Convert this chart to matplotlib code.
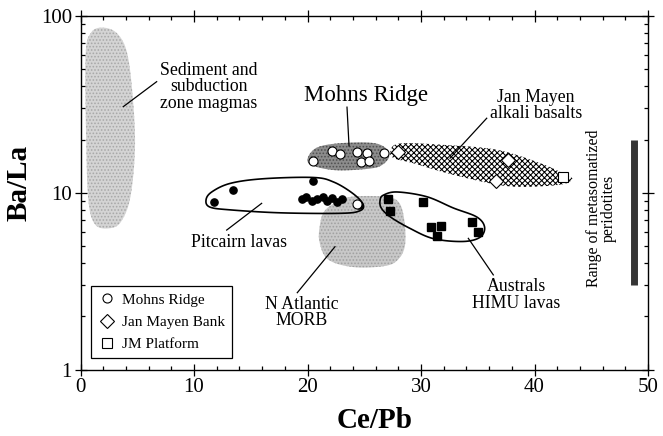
import numpy as np
import matplotlib
matplotlib.use('Agg')
import matplotlib.pyplot as plt
from matplotlib.ticker import LogLocator, MultipleLocator, NullFormatter

plt.rcParams['font.family'] = 'Liberation Serif'
plt.rcParams['hatch.linewidth'] = 0.75

# Mohns Ridge basalts (open circles)
mohns_cepb = [20.5, 22.2, 22.9, 24.4, 25.2, 24.7, 25.4, 26.7, 24.4]
mohns_bala = [15.1, 17.2, 16.6, 17.1, 16.7, 15.0, 15.1, 16.7, 8.6]

# Jan Mayen Bank (open diamonds) and JM Platform (open square)
jmb_cepb = [28.0, 37.7, 36.6]
jmb_bala = [17.1, 15.4, 11.7]
jmp_cepb = [42.5]
jmp_bala = [12.2]

# Pitcairn lavas (filled circles)
pit_cepb = [11.8, 13.4, 20.5, 19.5, 19.9, 20.4, 20.8, 21.4, 21.7, 22.2, 22.6, 23.0, 24.5]
pit_bala = [8.9, 10.3, 11.6, 9.2, 9.4, 9.0, 9.2, 9.5, 9.0, 9.3, 8.9, 9.2, 8.5]

# Australs HIMU lavas (filled squares)
aus_cepb = [27.1, 27.3, 30.2, 30.9, 31.8, 31.4, 34.5, 35.0]
aus_bala = [9.2, 7.9, 8.9, 6.4, 6.5, 5.7, 6.8, 6.0]

# field outlines (Ce/Pb, Ba/La)
sed_cepb = [1.9, 0.9, 0.45, 0.5, 0.7, 1.3, 2.6, 3.6, 4.4, 4.8, 4.6, 4.1, 3.2]
sed_bala = [86, 80, 60, 20, 9, 6.6, 6.3, 6.9, 9.5, 18, 35, 62, 80]

morb_cepb = [21.1, 21.45, 22.4, 23.9, 26.8, 28.0, 28.5, 28.6, 28.0, 26.8, 24.0, 21.8, 21.05]
morb_bala = [6.6, 7.8, 8.75, 9.5, 9.5, 8.9, 7.2, 5.1, 4.2, 3.85, 3.8, 4.2, 5.3]

mohns_field_cepb = [20.0, 20.75, 22.6, 25.5, 26.8, 27.2, 26.6, 25.5, 22.6, 20.5]
mohns_field_bala = [15.5, 17.9, 19.0, 19.2, 18.1, 16.1, 14.4, 13.7, 13.4, 14.2]

jm_field_cepb = [27.3, 28.15, 32.3, 36.7, 40.5, 42.8, 43.3, 42.25, 38.7, 36.1, 32.3, 29.3, 27.6]
jm_field_bala = [17.1, 19.0, 18.6, 17.5, 14.7, 12.6, 11.9, 11.1, 10.8, 11.3, 12.9, 14.7, 15.7]

pit_field_cepb = [11.06, 11.56, 13.2, 16.1, 20.5, 22.3, 24.0, 24.9, 24.6, 22.9, 17.6, 13.2, 11.4]
pit_field_bala = [9.1, 10.1, 11.3, 12.0, 12.2, 11.5, 9.9, 8.6, 7.9, 7.65, 7.7, 8.0, 8.3]

aus_field_cepb = [26.4, 26.7, 27.9, 30.5, 32.85, 34.9, 35.6, 35.2, 33.7, 31.1, 29.0, 27.3, 26.5]
aus_field_bala = [9.1, 9.7, 10.1, 9.5, 8.2, 7.3, 6.4, 5.6, 5.3, 5.5, 6.3, 7.3, 8.2]

# range of metasomatized peridotites
perid_cepb = 48.8
perid_bala = [3, 20]


def smooth_outline(xs, ys, n=24):
    # closed Catmull-Rom curve through the outline, worked in (x, log y)
    p = np.column_stack([xs, np.log10(ys)])
    k = len(p)
    t = np.linspace(0, 1, n, endpoint=False)[:, None]
    segs = []
    for i in range(k):
        p0, p1, p2, p3 = p[i - 1], p[i], p[(i + 1) % k], p[(i + 2) % k]
        segs.append(0.5 * (2 * p1 + (p2 - p0) * t
                           + (2 * p0 - 5 * p1 + 4 * p2 - p3) * t ** 2
                           + (3 * p1 - p0 - 3 * p2 + p3) * t ** 3))
    out = np.vstack(segs)
    return out[:, 0], 10 ** out[:, 1]


fig = plt.figure(figsize=(6.63, 4.36), dpi=100)
ax = fig.add_axes([80.5 / 663, 1 - 369.5 / 436, 567.5 / 663, 353.5 / 436])
ax.set_yscale('log')
ax.set_xlim(0, 50)
ax.set_ylim(1, 100)

# shaded fields
x, y = smooth_outline(sed_cepb, sed_bala)
ax.fill(x, y, facecolor='#d4d4d4', edgecolor='#a8a8a8', hatch='.....', lw=0, zorder=1)
x, y = smooth_outline(morb_cepb, morb_bala)
ax.fill(x, y, facecolor='#c8c8c8', edgecolor='#a0a0a0', hatch='.....', lw=0, zorder=1)
x, y = smooth_outline(mohns_field_cepb, mohns_field_bala)
ax.fill(x, y, facecolor='#8c8c8c', edgecolor='#505050', hatch='.....', lw=0, zorder=1)
x, y = smooth_outline(jm_field_cepb, jm_field_bala)
ax.fill(x, y, facecolor='white', edgecolor='black', hatch='xxxxxx', lw=0, zorder=1)

# outlined fields
x, y = smooth_outline(pit_field_cepb, pit_field_bala)
ax.fill(x, y, facecolor='none', edgecolor='black', lw=1.2, zorder=2)
x, y = smooth_outline(aus_field_cepb, aus_field_bala)
ax.fill(x, y, facecolor='none', edgecolor='black', lw=1.2, zorder=2)

ax.plot([perid_cepb, perid_cepb], perid_bala, color='#353535', lw=5,
        solid_capstyle='butt', zorder=2)

# samples
ax.plot(pit_cepb, pit_bala, 'o', ms=5.2, mfc='black', mec='black', zorder=3)
ax.plot(aus_cepb, aus_bala, 's', ms=5.6, mfc='black', mec='black', zorder=3)
ax.plot(mohns_cepb, mohns_bala, 'o', ms=6.5, mfc='white', mec='black', mew=0.8,
        zorder=4, label='Mohns Ridge')
ax.plot(jmb_cepb, jmb_bala, 'D', ms=7.5, mfc='white', mec='black', mew=0.8,
        zorder=4, label='Jan Mayen Bank')
ax.plot(jmp_cepb, jmp_bala, 's', ms=6.5, mfc='white', mec='black', mew=0.8,
        zorder=4, label='JM Platform')

# field labels and leader lines
lab = dict(ha='center', va='center', fontsize=12.8, linespacing=0.95)
ax.text(11.3, 39.7, 'Sediment and\nsubduction\nzone magmas', **lab)
ax.plot([6.71, 3.77], [42.5, 30.7], color='black', lw=0.9)
ax.text(25.15, 35.7, 'Mohns Ridge', ha='center', va='center', fontsize=16.5)
ax.plot([23.48, 23.66], [30.5, 18.4], color='black', lw=0.9)
ax.text(40.1, 31.2, 'Jan Mayen\nalkali basalts', **lab)
ax.plot([35.79, 32.56], [26.4, 15.7], color='black', lw=0.9)
ax.text(14.0, 5.25, 'Pitcairn lavas', **lab)
ax.plot([12.88, 15.96], [6.15, 8.71], color='black', lw=0.9)
ax.text(19.5, 2.11, 'N Atlantic\nMORB', **lab)
ax.plot([19.10, 22.42], [2.72, 4.95], color='black', lw=0.9)
ax.text(38.4, 2.64, 'Australs\nHIMU lavas', **lab)
ax.plot([36.37, 34.17], [3.43, 5.52], color='black', lw=0.9)
ax.text(45.9, 8.2, 'Range of metasomatized\nperidotites', rotation=90,
        ha='center', va='center', fontsize=11.5, linespacing=0.95)

leg = ax.legend(loc='lower left', bbox_to_anchor=(0.018, 0.033), fontsize=11,
                frameon=True, fancybox=False, edgecolor='black', framealpha=1,
                handletextpad=0.4, handlelength=1.2, labelspacing=0.55,
                borderpad=0.45, borderaxespad=0)
leg.get_frame().set_linewidth(0.9)

# axes and ticks
ax.set_xticks(range(0, 51, 10))
ax.xaxis.set_minor_locator(MultipleLocator(2))
ax.set_yticks([1, 10, 100])
ax.set_yticklabels(['1', '10', '100'])
ax.yaxis.set_minor_locator(LogLocator(base=10, subs=range(2, 10)))
ax.yaxis.set_minor_formatter(NullFormatter())
ax.tick_params(which='both', top=True, right=True, labelsize=15, width=0.9)
ax.tick_params(which='major', direction='inout', length=8.5, pad=2)
ax.tick_params(which='minor', direction='in', length=3)
for s in ax.spines.values():
    s.set_linewidth(1.0)

ax.set_xlabel('Ce/Pb', fontsize=21, fontweight='bold')
ax.xaxis.set_label_coords(0.519, -0.105)
ax.set_ylabel('Ba/La', fontsize=21, fontweight='bold')
ax.yaxis.set_label_coords(-0.084, 0.528)

fig.savefig('out.png', dpi=100)
